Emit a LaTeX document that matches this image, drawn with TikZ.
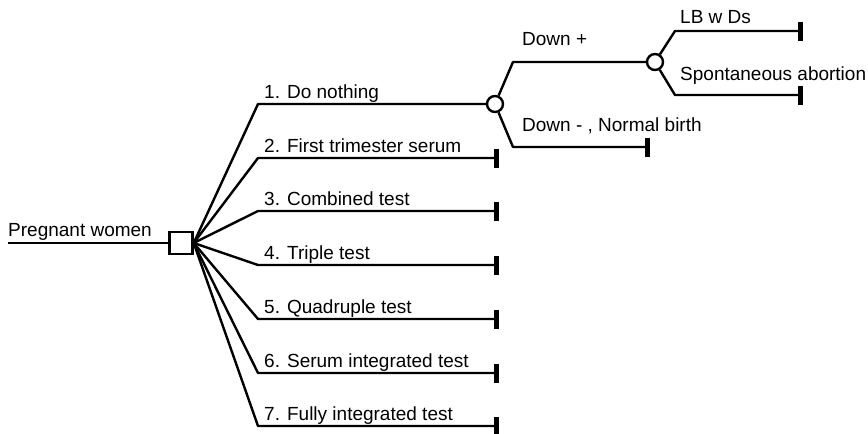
\documentclass[tikz,border=0pt]{standalone}
\usepackage{fontspec}
\setmainfont{Liberation Sans}
\begin{document}
\begin{tikzpicture}[x=1pt,y=-1pt,
  edge/.style={line width=2.4pt, line join=round},
  decision/.style={draw, line width=2.4pt, fill=white, minimum width=23pt, minimum height=22pt, inner sep=0pt},
  chance/.style={draw, circle, line width=2.4pt, fill=white, minimum size=16pt, inner sep=0pt},
  term/.style={fill=black, minimum width=5pt, minimum height=19pt, inner sep=0pt},
  lbl/.style={anchor=base west, inner sep=0pt, font=\fontsize{19}{22}\selectfont}]
\useasboundingbox (0,0) rectangle (868,434);

% root and decision node
\coordinate (root) at (8,243);
\node[decision] (d) at (181,243) {};
\node[lbl] (lroot) at (8,236) {Pregnant women};

% strategy branches: corner points
\coordinate (k1) at (258,104);
\coordinate (k2) at (258,158);
\coordinate (k3) at (258,211);
\coordinate (k4) at (258,265);
\coordinate (k5) at (258,319);
\coordinate (k6) at (258,373);
\coordinate (k7) at (258,426);

% chance nodes
\node[chance] (c1) at (495,104) {};
\node[chance] (c2) at (655,62) {};
\coordinate (u1) at (513,62);
\coordinate (v1) at (513,147);
\coordinate (u2) at (675,31);
\coordinate (v2) at (675,95);

% terminal nodes
\node[term] (t2) at (496,158) {};
\node[term] (t3) at (496,211) {};
\node[term] (t4) at (496,265) {};
\node[term] (t5) at (496,319) {};
\node[term] (t6) at (496,373) {};
\node[term] (t7) at (496,426) {};
\node[term] (tn) at (647,147) {};
\node[term] (ta) at (800,31) {};
\node[term] (tb) at (800,95) {};

% connectors
\draw[edge] (root) -- (d.west);
\draw[edge] (d.east) -- (k1) -- (c1);
\draw[edge] (d.east) -- (k2) -- (t2.center);
\draw[edge] (d.east) -- (k3) -- (t3.center);
\draw[edge] (d.east) -- (k4) -- (t4.center);
\draw[edge] (d.east) -- (k5) -- (t5.center);
\draw[edge] (d.east) -- (k6) -- (t6.center);
\draw[edge] (d.east) -- (k7) -- (t7.center);
\draw[edge] (c1) -- (u1) -- (c2);
\draw[edge] (c1) -- (v1) -- (tn.center);
\draw[edge] (c2) -- (u2) -- (ta.center);
\draw[edge] (c2) -- (v2) -- (tb.center);

% branch labels
\node[lbl] (l1) at (264,98) {1. Do nothing};
\node[lbl] (l2) at (264,152) {2. First trimester serum};
\node[lbl] (l3) at (264,205) {3. Combined test};
\node[lbl] (l4) at (264,259) {4. Triple test};
\node[lbl] (l5) at (264,313) {5. Quadruple test};
\node[lbl] (l6) at (264,367) {6. Serum integrated test};
\node[lbl] (l7) at (264,420) {7. Fully integrated test};
\node[lbl] (lp) at (522,45) {Down +};
\node[lbl] (lm) at (522,131) {Down - , Normal birth};
\node[lbl] (la) at (680,23) {LB w Ds};
\node[lbl] (lb) at (680,80) {Spontaneous abortion};
\end{tikzpicture}
\end{document}
